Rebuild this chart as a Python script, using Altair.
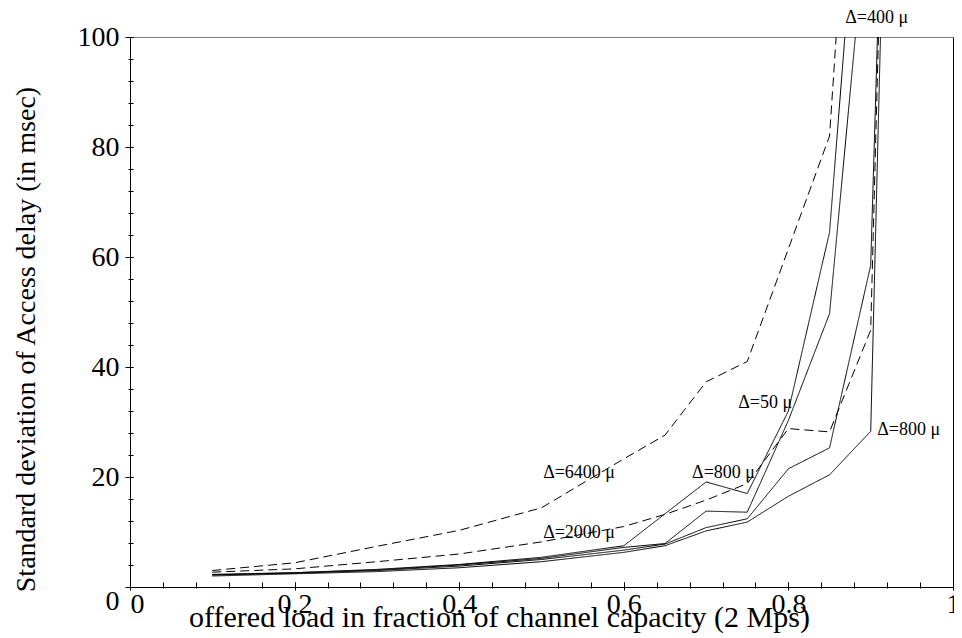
import altair as alt
import pandas as pd

# offered load values (x) for every series
loads = [0.1, 0.2, 0.3, 0.4, 0.5, 0.6, 0.65, 0.7, 0.75, 0.8, 0.85, 0.9, 0.95]

# Standard deviation of access delay (msec)
s_6400 = [3.0, 4.4, 7.4, 10.3, 14.4, 23.3, 27.6, 37.3, 41.0, 61.5, 82.0, 194.0]
s_2000 = [2.7, 3.3, 4.6, 6.0, 8.2, 11.0, 13.2, 15.8, 18.8, 28.8, 28.2, 46.7, 330.0]
s_a = [2.3, 2.6, 3.2, 4.1, 5.4, 7.5, 13.3, 19.1, 17.0, 32.0, 64.5, 160.0]
s_b = [2.2, 2.6, 3.1, 4.0, 5.2, 7.2, 7.9, 13.8, 13.6, 30.3, 49.7, 130.0]
s_c = [2.2, 2.5, 3.0, 3.8, 5.0, 6.7, 7.8, 10.8, 12.4, 21.5, 25.3, 58.5, 312.0]
s_d = [2.0, 2.4, 2.8, 3.5, 4.6, 6.3, 7.5, 10.2, 11.8, 16.5, 20.4, 28.3, 330.0]

series_names = ["d6400", "d2000", "a", "b", "c", "d"]
series_values = [s_6400, s_2000, s_a, s_b, s_c, s_d]
series_style = ["dashed", "dashed", "solid", "solid", "solid", "solid"]

# annotations
label_text = ["Δ=400 μ", "Δ=50 μ", "Δ=800 μ", "Δ=6400 μ", "Δ=800 μ", "Δ=2000 μ"]
label_x = [0.869, 0.739, 0.908, 0.502, 0.683, 0.502]
label_y = [103.4, 33.4, 28.5, 20.7, 20.7, 9.8]

# axis tick values
x_major_ticks = [0, 0.2, 0.4, 0.6, 0.8, 1.0]
x_minor_ticks = [round(i * 0.04, 2) for i in range(26)]
y_major_ticks = [0, 20, 40, 60, 80, 100]
y_minor_ticks = list(range(0, 101, 4))

rows = []
for name, vals, sty in zip(series_names, series_values, series_style):
    for xv, yv in zip(loads, vals):
        rows.append({"series": name, "style": sty, "load": xv, "sd": yv})
df = pd.DataFrame(rows)
lab = pd.DataFrame({"text": label_text, "x": label_x, "y": label_y})

FONT = "Liberation Serif"

x_axis = alt.Axis(
    orient="bottom", values=x_major_ticks, offset=-5, domain=False, grid=False,
    tickColor="black", tickWidth=1, tickSize=8,
    labelExpr="format(datum.value, '~g')",
    labelFont=FONT, labelFontSize=28, labelColor="black",
    labelPadding=0, labelOverlap=False, labelFlush=False,
    labelAlign={"condition": {"test": "datum.value === 0", "value": "left"}, "value": "center"},
    labelBaseline="top",
    title="offered load in fraction of channel capacity (2 Mps)",
    titleFont=FONT, titleFontSize=30, titleFontWeight="normal", titleColor="black",
    titleX=369, titleY=44, titleBaseline="alphabetic", titleAlign="center",
)
y_axis = alt.Axis(
    orient="left", values=y_major_ticks, offset=-3, domain=False, grid=False,
    tickColor="black", tickWidth=1, tickSize=8,
    labelFont=FONT, labelFontSize=28, labelColor="black",
    labelPadding=6, labelOverlap=False, labelFlush=False,
    labelBaseline={"condition": {"test": "datum.value === 0", "value": "top"}, "value": "middle"},
    title="Standard deviation of Access delay (in msec)",
    titleFont=FONT, titleFontSize=28, titleFontWeight="normal", titleColor="black",
    titleAngle=270, titleBaseline="alphabetic", titleAlign="center",
    titleX=-99, titleY=302,
)
x_axis_minor = alt.Axis(
    orient="bottom", values=x_minor_ticks, offset=-5, domain=False, grid=False,
    tickColor="black", tickWidth=1, tickSize=6, labels=False, title=None,
)
y_axis_minor = alt.Axis(
    orient="left", values=y_minor_ticks, offset=-3, domain=False, grid=False,
    tickColor="black", tickWidth=1, tickSize=5, labels=False, title=None,
)
x_axis_top = alt.Axis(
    orient="top", domain=True, domainColor="#808080", domainWidth=1,
    ticks=False, labels=False, grid=False, title=None,
)

xs = alt.Scale(domain=[0, 1], nice=False, zero=False)
ys = alt.Scale(domain=[0, 100], nice=False, zero=False)

lines = alt.Chart(df).mark_line(clip=True, color="black", strokeWidth=1).encode(
    x=alt.X("load:Q", scale=xs, axis=x_axis),
    y=alt.Y("sd:Q", scale=ys, axis=y_axis),
    detail="series:N",
    strokeDash=alt.StrokeDash(
        "style:N",
        scale=alt.Scale(domain=["solid", "dashed"], range=[[1, 0], [9, 5]]),
        legend=None,
    ),
)

minor = alt.Chart(df).mark_point(opacity=0, clip=True).encode(
    x=alt.X("load:Q", scale=xs, axis=x_axis_minor),
    y=alt.Y("sd:Q", scale=ys, axis=y_axis_minor),
)

texts = alt.Chart(lab).mark_text(
    align="left", baseline="middle", font=FONT, fontSize=18, color="black"
).encode(
    x=alt.X("x:Q", scale=xs, axis=x_axis_top),
    y=alt.Y("y:Q", scale=ys, axis=None),
    text="text:N",
)

chart = (
    alt.layer(minor, lines, texts)
    .resolve_scale(x="independent", y="independent")
    .properties(
        width=823, height=550,
        autosize=alt.AutoSizeParams(type="none"),
        padding={"left": 122, "top": 29, "right": 1, "bottom": 50},
        background="white",
    )
    .configure_view(stroke="black", strokeWidth=1)
)

chart.save("out.html", embed_options={"renderer": "svg", "actions": False})
